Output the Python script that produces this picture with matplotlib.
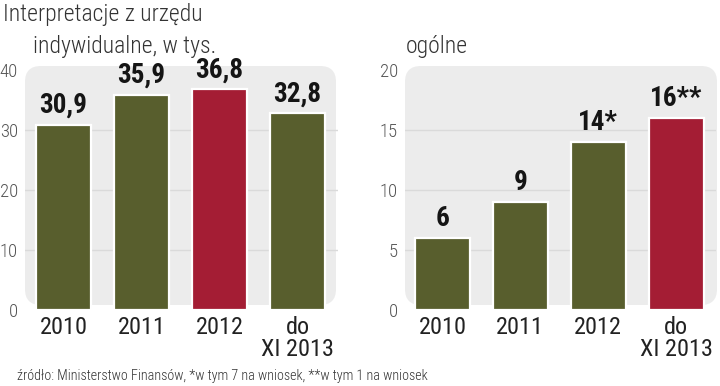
import matplotlib
matplotlib.use("Agg")
import matplotlib.pyplot as plt
from matplotlib.patches import FancyBboxPatch
import matplotlib.patheffects as pe
from matplotlib import font_manager as fm

names = {f.name for f in fm.fontManager.ttflist}
NARROW = [n for n in ["Liberation Sans Narrow", "Roboto Condensed", "Open Sans Condensed", "DejaVu Sans Condensed"] if n in names]
FAM = NARROW + ["Liberation Sans", "DejaVu Sans"]
plt.rcParams['font.family'] = FAM

# data
categories = ["2010", "2011", "2012", "do\nXI 2013"]
indiv_values = [30.9, 35.9, 36.8, 32.8]
indiv_labels = ["30,9", "35,9", "36,8", "32,8"]
general_values = [6, 9, 14, 16]
general_labels = ["6", "9", "14*", "16**"]
indiv_colors = ["#585e2d", "#585e2d", "#a41d34", "#585e2d"]
general_colors = ["#585e2d", "#585e2d", "#585e2d", "#a41d34"]
indiv_ticks = [0, 10, 20, 30, 40]
general_ticks = [0, 5, 10, 15, 20]

W, H = 720, 386
fig = plt.figure(figsize=(W / 100, H / 100), dpi=100)
fig.patch.set_facecolor("white")

def px_axes(x0, x1, ytop, ybot):
    return fig.add_axes([x0 / W, (H - ybot) / H, (x1 - x0) / W, (ybot - ytop) / H])

def panel(ax, vals, labels, colors, ticks, ymax, xlim, bg):
    ax.set_facecolor("none")
    # background rounded box
    bx0, bx1, by0, by1 = bg
    box = FancyBboxPatch((bx0 / W, (H - by1) / H), (bx1 - bx0) / W, (by1 - by0) / H,
                         boxstyle="round,pad=0,rounding_size=0.022",
                         mutation_aspect=W / H, transform=fig.transFigure,
                         facecolor="#ececec", edgecolor="none", zorder=-5)
    fig.patches.append(box)
    x = list(range(len(vals)))
    ax.set_xlim(*xlim)
    ax.set_ylim(0, ymax)
    for t in ticks[1:-1]:
        ax.axhline(t, color="#dadada", lw=1, zorder=1)
    bars = ax.bar(x, vals, width=0.7, color=colors, edgecolor="white", linewidth=1.6,
                  zorder=3, clip_on=False)
    for b in bars:
        b.set_path_effects([pe.SimplePatchShadow(offset=(1, -1), shadow_rgbFace="#9a9a9a", alpha=0.5),
                            pe.Normal()])
    for xi, v, lab in zip(x, vals, labels):
        ax.annotate(lab, (xi, v), xytext=(0, 4), textcoords="offset points",
                    ha="center", va="bottom", fontsize=19.5, fontweight="bold",
                    color="#151515", zorder=5)
    ax.set_yticks(ticks)
    ax.set_yticklabels([str(t) for t in ticks], fontsize=13.5, color="#555555",
                       fontweight="light")
    ax.set_xticks(x)
    ax.set_xticklabels(categories, fontsize=17.5, color="#222222", linespacing=0.95)
    ax.tick_params(axis="both", length=0)
    ax.tick_params(axis="y", pad=5)
    ax.tick_params(axis="x", pad=4)
    for s in ax.spines.values():
        s.set_visible(False)

ax1 = px_axes(25, 338, 68, 310)
panel(ax1, indiv_values, indiv_labels, indiv_colors, indiv_ticks, 40 * 242 / 240,
      (-0.494, 3.52), (25, 336, 66, 305))
ax2 = px_axes(405, 716, 68, 310)
panel(ax2, general_values, general_labels, general_colors, general_ticks, 20 * 242 / 240,
      (-0.48, 3.51), (405, 717, 66, 305))

fig.text(3 / W, 1 - 15 / H, "Interpretacje z urzędu", fontsize=17, color="#333333",
         ha="left", va="center", fontweight="light")
fig.text(33 / W, 1 - 47 / H, "indywidualne, w tys.", fontsize=17, color="#333333",
         ha="left", va="center", fontweight="light")
fig.text(406 / W, 1 - 47 / H, "ogólne", fontsize=17, color="#333333",
         ha="left", va="center", fontweight="light")
fig.text(17 / W, 1 - 376 / H,
         "źródło: Ministerstwo Finansów, *w tym 7 na wniosek, **w tym 1 na wniosek",
         fontsize=10.2, color="#333333", ha="left", va="center", fontweight="light")

fig.savefig("out.png", dpi=100)
